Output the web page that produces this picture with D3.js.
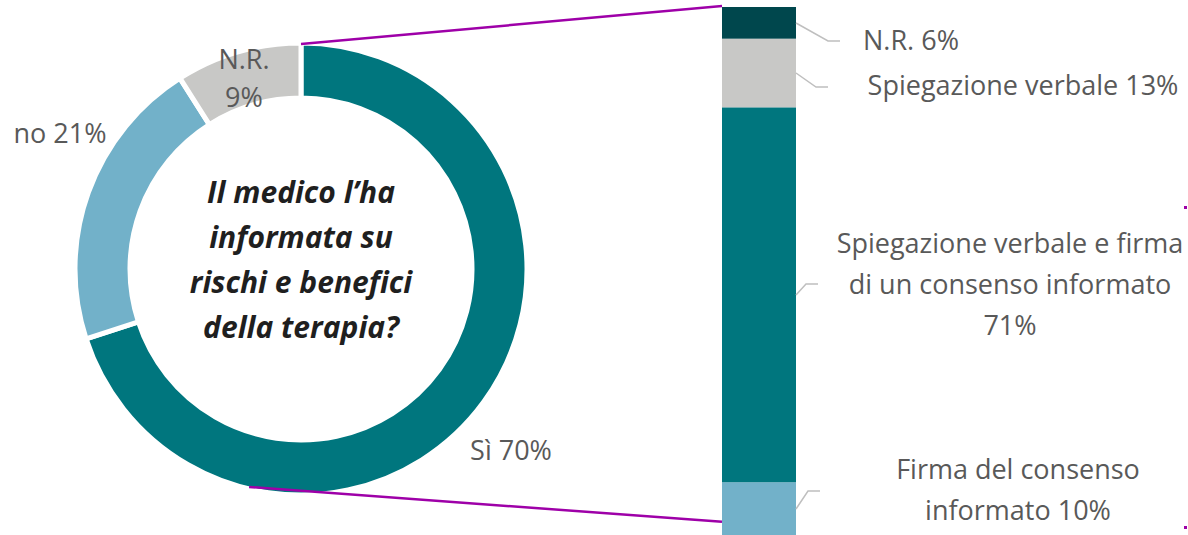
<!DOCTYPE html>
<html>
<head>
<meta charset="utf-8">
<script src="https://cdn.jsdelivr.net/npm/d3@7"></script>
<style>
  body { margin: 0; background: #fff; }
  text { font-family: "Open Sans", Lato, sans-serif; }
</style>
</head>
<body>
<svg id="chart" width="1188" height="535"></svg>
<script>
// donut data (clockwise from top)
const pieLabels = ["Sì 70%", "no 21%", "N.R.|9%"];
const pieValues = [70, 21, 9];
const pieColors = ["#00767e", "#72b1c9", "#c8c8c6"];

// stacked bar data (bottom to top)
const barLabels = ["Firma del consenso|informato 10%",
                   "Spiegazione verbale e firma|di un consenso informato|71%",
                   "Spiegazione verbale 13%",
                   "N.R. 6%"];
const barValues = [10, 71, 13, 6];
const barColors = ["#72b1c9", "#00767e", "#c8c8c6", "#00474d"];

const centerText = ["Il medico l’ha", "informata su", "rischi e benefici", "della terapia?"];

let svg = d3.select("#chart");
let cx = 301, cy = 269, rOut = 226, rIn = 171;
let textColor = "#595959";
let purple = "#9e00a8";
let fontSize = "27px";

// donut
let pie = d3.pie().sort(null).value(d => d);
let arcs = pie(pieValues);
let arc = d3.arc().innerRadius(rIn).outerRadius(rOut);

let g = svg.append("g").attr("transform", `translate(${cx},${cy})`);
g.selectAll("path")
    .data(arcs)
    .join("path")
    .attr("d", arc)
    .style("fill", (d, i) => pieColors[i])
    .style("stroke", "#fff")
    .style("stroke-width", 5);

// donut labels
let pieLabelPos = [[511, 453], [60, 136], [244, 62]];
pieLabels.forEach((lab, i) => {
    let lines = lab.split("|");
    let t = svg.append("text")
        .attr("x", pieLabelPos[i][0])
        .attr("y", pieLabelPos[i][1])
        .attr("text-anchor", "middle")
        .attr("dominant-baseline", "middle")
        .style("fill", textColor)
        .style("font-size", fontSize);
    lines.forEach((l, j) => {
        t.append("tspan").attr("x", pieLabelPos[i][0]).attr("dy", j == 0 ? 0 : 38).text(l);
    });
});

// center question
svg.append("g").selectAll("text")
    .data(centerText)
    .join("text")
    .attr("x", cx)
    .attr("y", (d, i) => 203 + i * 45)
    .attr("text-anchor", "middle")
    .style("fill", "#1f1f1f")
    .style("font-size", "30px")
    .style("font-weight", "bold")
    .style("font-style", "italic")
    .text(d => d);

// stacked bar
let y = d3.scaleLinear().domain([0, d3.sum(barValues)]).range([535, 7]);
let barX = 722, barW = 74;
let cum = 0;
let stack = barValues.map(v => { let s = { y0: cum, y1: cum + v }; cum += v; return s; });

svg.selectAll(".seg")
    .data(stack)
    .join("rect")
    .classed("seg", true)
    .attr("x", barX)
    .attr("width", barW)
    .attr("y", d => y(d.y1))
    .attr("height", d => y(d.y0) - y(d.y1))
    .style("fill", (d, i) => barColors[i]);

// connector lines pie -> bar
function polar(angle, r) {
    return [cx + r * Math.sin(angle), cy - r * Math.cos(angle)];
}
let pTop = polar(arcs[0].startAngle, rOut - 1);
let pBot = polar(193.4 * Math.PI / 180, rOut - 2);
svg.append("line")
    .attr("x1", pTop[0]).attr("y1", pTop[1])
    .attr("x2", barX).attr("y2", y(100) - 1)
    .style("stroke", purple).style("stroke-width", 2.5);
svg.append("line")
    .attr("x1", pBot[0]).attr("y1", pBot[1])
    .attr("x2", barX).attr("y2", y(2.5))
    .style("stroke", purple).style("stroke-width", 2.5);

// leader lines + labels for bar
let leaders = [
    { from: [796, 509], knee: [808, 491], end: [820, 491], tx: 1018, ty: 472 },
    { from: [796, 295], knee: [806, 284], end: [818, 284], tx: 1010, ty: 246 },
    { from: [796, 73],  knee: [816, 87],  end: [828, 87],  tx: 1023, ty: 88 },
    { from: [796, 23],  knee: [828, 41],  end: [840, 41],  tx: 911,  ty: 43 }
];
barLabels.forEach((lab, i) => {
    let L = leaders[i];
    svg.append("polyline")
        .attr("points", [L.from, L.knee, L.end].map(p => p.join(",")).join(" "))
        .style("fill", "none")
        .style("stroke", "#bfbfbf")
        .style("stroke-width", 1.5);
    let t = svg.append("text")
        .attr("x", L.tx)
        .attr("y", L.ty)
        .attr("text-anchor", "middle")
        .attr("dominant-baseline", "middle")
        .style("fill", textColor)
        .style("font-size", fontSize);
    lab.split("|").forEach((l, j) => {
        t.append("tspan").attr("x", L.tx).attr("dy", j == 0 ? 0 : 41).text(l);
    });
});

// stray marks at right edge
svg.selectAll(".dot")
    .data([206, 526])
    .join("rect")
    .classed("dot", true)
    .attr("x", 1184).attr("y", d => d)
    .attr("width", 3).attr("height", 3)
    .style("fill", purple);
</script>
</body>
</html>
